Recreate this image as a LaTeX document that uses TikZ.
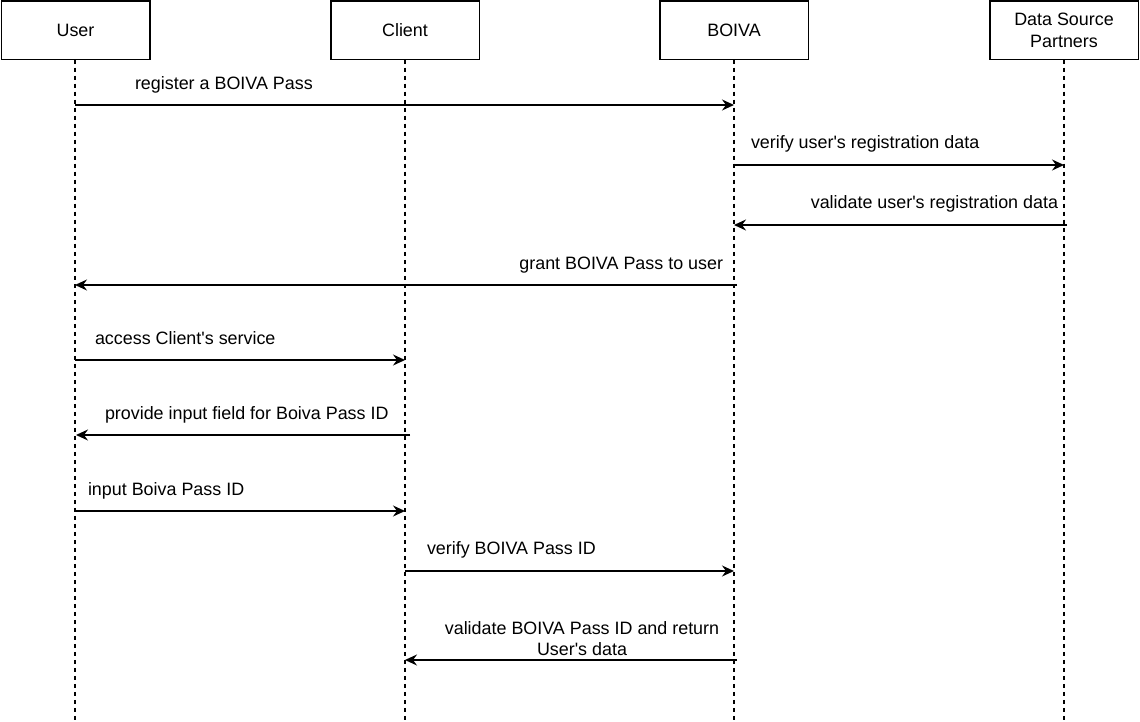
\documentclass[tikz,border=0pt]{standalone}
\usepackage{fontspec}
\setmainfont{Liberation Sans}
\usetikzlibrary{arrows.meta}
\newcommand{\q}{\textquotesingle}
\begin{document}
\begin{tikzpicture}[x=1pt,y=-1pt,
  every node/.style={font=\fontsize{17.9}{21.5}\selectfont, inner sep=0pt, outer sep=0pt},
  actor/.style={draw, line width=1.5pt, minimum width=148.5pt, minimum height=58.5pt, align=center},
  lifeline/.style={line width=1.1pt, dash pattern=on 4pt off 4pt},
  msg/.style={line width=1.5pt, -{Stealth[length=12pt,width=11pt,inset=4pt]}},
  lbl/.style={anchor=base}
]
\useasboundingbox (0,0) rectangle (1140,722);
\fill[white] (0,0) rectangle (1140,722);

% actors
\node[actor] (user) at (75.5,30.5) {User};
\node[actor] (client) at (405,30.5) {Client};
\node[actor] (boiva) at (734,30.5) {BOIVA};
\node[actor] (dsp) at (1064,30.5) {Data Source\\Partners};

% lifeline ends
\coordinate (userE) at (75,722);
\coordinate (clientE) at (405,722);
\coordinate (boivaE) at (734,722);
\coordinate (dspE) at (1064,722);
\draw[lifeline] (user.south -| userE) -- (userE);
\draw[lifeline] (client.south -| clientE) -- (clientE);
\draw[lifeline] (boiva.south -| boivaE) -- (boivaE);
\draw[lifeline] (dsp.south -| dspE) -- (dspE);

% message endpoints
\coordinate (m1a) at (75,105);   \coordinate (m1b) at (734,105);
\coordinate (m2a) at (734,165);  \coordinate (m2b) at (1064,165);
\coordinate (m3a) at (1067,225); \coordinate (m3b) at (734,225);
\coordinate (m4a) at (737,285);  \coordinate (m4b) at (75,285);
\coordinate (m5a) at (75,360);   \coordinate (m5b) at (405,360);
\coordinate (m6a) at (410,435);  \coordinate (m6b) at (76,435);
\coordinate (m7a) at (75,511);   \coordinate (m7b) at (405,511);
\coordinate (m8a) at (405,571);  \coordinate (m8b) at (734,571);
\coordinate (m9a) at (737,660);  \coordinate (m9b) at (405,660);

\draw[msg] (m1a) -- (m1b);
\draw[msg] (m2a) -- (m2b);
\draw[msg] (m3a) -- (m3b);
\draw[msg] (m4a) -- (m4b);
\draw[msg] (m5a) -- (m5b);
\draw[msg] (m6a) -- (m6b);
\draw[msg] (m7a) -- (m7b);
\draw[msg] (m8a) -- (m8b);
\draw[msg] (m9a) -- (m9b);

% labels
\node[lbl, anchor=base west] (l1) at (135,90) {register a BOIVA Pass};
\node[lbl, anchor=base west] (l2) at (751,149) {verify user\q s registration data};
\node[lbl, anchor=base east] (l3) at (1058,209) {validate user\q s registration data};
\node[lbl, anchor=base east] (l4) at (723,269) {grant BOIVA Pass to user};
\node[lbl, anchor=base west] (l5) at (95,344) {access Client\q s service};
\node[lbl, anchor=base west] (l6) at (105,419) {provide input field for Boiva Pass ID};
\node[lbl, anchor=base west] (l7) at (88,495) {input Boiva Pass ID};
\node[lbl, anchor=base west] (l8) at (427,554) {verify BOIVA Pass ID};
\node[lbl, anchor=base, align=center] (l9) at (582,655.5) {validate BOIVA Pass ID and return\\User\q s data};
\end{tikzpicture}
\end{document}
